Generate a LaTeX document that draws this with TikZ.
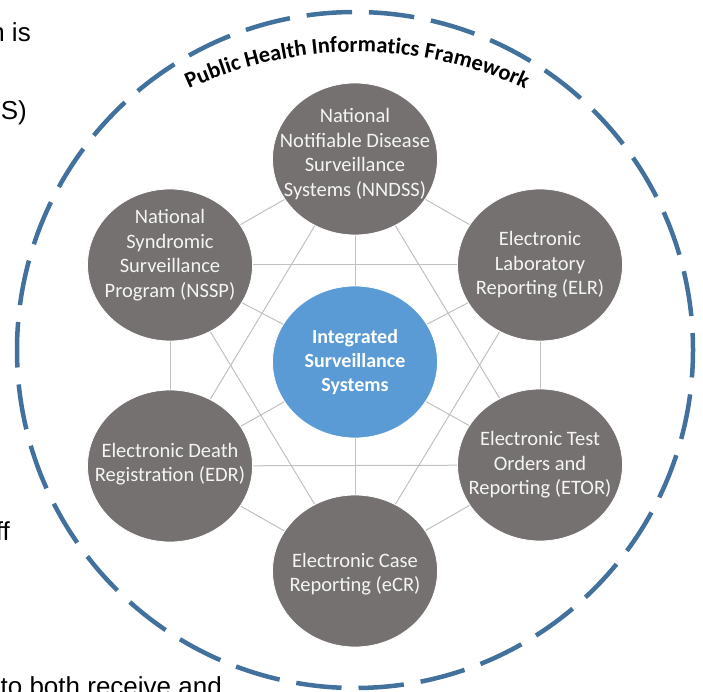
\documentclass[tikz,border=0pt]{standalone}
\usepackage{fontspec}
\setmainfont{Carlito}
\newfontfamily\arialfont{Liberation Sans}
\usetikzlibrary{shapes.geometric,decorations.text,backgrounds}
\definecolor{satgray}{HTML}{767171}
\definecolor{hubblue}{HTML}{5B9BD5}
\definecolor{ringblue}{HTML}{41719C}
\definecolor{linkgray}{HTML}{C0C0C0}
\definecolor{txtwhite}{HTML}{F4F4F4}
\begin{document}
\begin{tikzpicture}
[
   x=1pt,y=1pt,
   sat/.style={ellipse,fill=satgray,draw=white,line width=0.8pt,inner sep=0pt,
     minimum width=165pt,minimum height=152pt},
   hub/.style={sat,fill=hubblue},
   sattext/.style={align=center,inner sep=0pt,text=txtwhite,
     font=\fontsize{20.5}{24.5}\selectfont},
   hubtext/.style={sattext,text=white,font=\fontsize{20}{24}\selectfont\bfseries},
   link/.style={draw=linkgray,line width=1pt},
   frameline/.style={draw=ringblue,line width=4.5pt,dash pattern=on 45.5pt off 17pt,dash phase=28.5pt},
   frag/.style={font=\arialfont\fontsize{26}{30}\selectfont,inner sep=0pt}
]
\useasboundingbox (0,0) rectangle (703,691);
% outer framework ring
\coordinate (ringc) at (355,341);
\draw[frameline] (ringc) circle[radius=338pt];
\coordinate (arcc) at (357,239);
\path[decorate,decoration={text along path,text align=center,
  text={|\fontsize{22.5}{27}\selectfont\bfseries|Public Health Informatics Framework}}]
  (arcc) ++(120:400pt) arc[start angle=120,end angle=60,radius=400pt];
% systems
\node[hub] (iss) at (355,329) {};
\node[sat] (nndss) at (355,532) {};
\node[sat] (elr) at (540,426) {};
\node[sat] (etor) at (540,226) {};
\node[sat] (ecr) at (355,120) {};
\node[sat] (edr) at (170,225) {};
\node[sat] (nssp) at (170,426) {};
\node[hubtext] (isstext) at (iss) {Integrated\\Surveillance\\Systems};
\node[sattext] (nndsstext) at ([yshift=5]nndss) {National\\Notifiable Disease\\Surveillance\\Systems (NNDSS)};
\node[sattext] (elrtext) at (elr) {Electronic\\Laboratory\\Reporting (ELR)};
\node[sattext] (etortext) at (etor) {Electronic Test\\Orders and\\Reporting (ETOR)};
\node[sattext] (ecrtext) at ([yshift=-3]ecr) {Electronic Case\\Reporting (eCR)};
\node[sattext] (edrtext) at ([yshift=2]edr) {Electronic Death\\Registration (EDR)};
\node[sattext] (nssptext) at ([yshift=10]nssp) {National\\Syndromic\\Surveillance\\Program (NSSP)};
% links behind the circles
\begin{scope}[on background layer]
  \foreach \a/\b in {nndss/elr,elr/etor,etor/ecr,ecr/edr,edr/nssp,nssp/nndss,
                     nndss/etor,etor/edr,edr/nndss,nssp/elr,elr/ecr,ecr/nssp}
    \draw[link] (\a.center) -- (\b.center);
  \foreach \s in {nndss,elr,etor,ecr,edr,nssp}
    \draw[link] (iss.center) -- (\s.center);
\end{scope}
% cut text of the page
\node[frag,anchor=base east] (fraga) at (31,649) {n is};
\node[frag,anchor=base east] (fragb) at (27,571) {SS)};
\node[frag,anchor=base east] (fragc) at (10,151) {ff};
\node[frag,anchor=base east] (fragd) at (222,-4.6) {to both receive and};
\end{tikzpicture}
\end{document}
